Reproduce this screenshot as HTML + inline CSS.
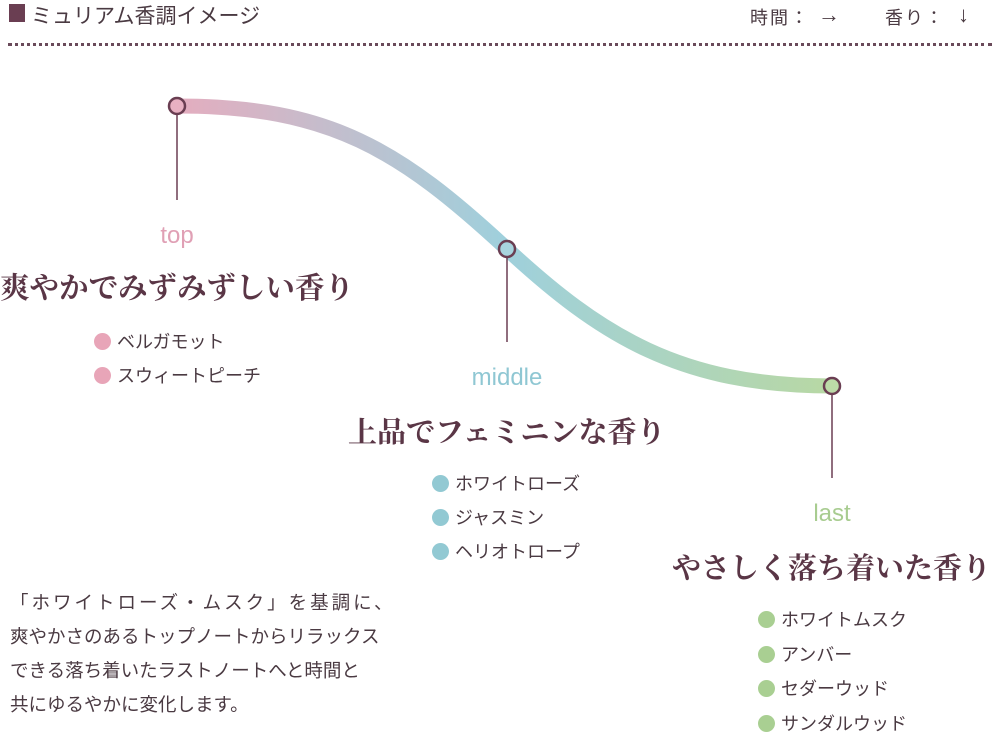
<!DOCTYPE html>
<html><head><meta charset="utf-8"><style>
body{margin:0;width:993px;height:732px;background:#fff;position:relative;overflow:hidden;font-family:"Liberation Sans","Noto Sans CJK JP",sans-serif;color:#4a3a42}
.a{position:absolute;white-space:nowrap}
.h{font-family:"Liberation Serif","Noto Serif CJK SC",serif;font-size:29px;color:#5a3646;font-weight:bold}
.b{font-size:18px;color:#4a3a42}
.d{display:inline-block;width:17px;height:17px;border-radius:50%;vertical-align:-2px;margin-right:6px}
.lab{font-size:24px;transform:translateX(-50%)}
</style></head><body>
<div class="a" style="left:9px;top:4px;width:16px;height:18px;background:#6a3e52"></div>
<div class="a" style="left:31px;top:0px;font-size:21px;color:#4a3a42">ミュリアム香調イメージ</div>
<div class="a" style="left:750px;top:4px;font-size:18px;letter-spacing:2px">時間：</div>
<div class="a" style="left:818px;top:2px;font-size:22px">→</div>
<div class="a" style="left:885px;top:4px;font-size:18px;letter-spacing:2px">香り：</div>
<div class="a" style="left:958px;top:2px;font-size:22px">↓</div>
<div class="a" style="left:8px;top:43px;width:984px;border-top:3px dotted #6a4a5a"></div>
<svg class="a" style="left:0;top:0" width="993" height="732">
<defs><linearGradient id="g" x1="177" y1="0" x2="832" y2="0" gradientUnits="userSpaceOnUse">
<stop offset="0" stop-color="#e4adbf"/><stop offset="0.5" stop-color="#9fd0dc"/><stop offset="1" stop-color="#b8d8a4"/></linearGradient></defs>
<path d="M177,106 C330,106 400,150 507,249 C600,335 680,386 832,386" fill="none" stroke="url(#g)" stroke-width="15"/>
<g stroke="#6a3e52" stroke-width="1.5"><line x1="177" y1="114" x2="177" y2="200"/><line x1="507" y1="257" x2="507" y2="342"/><line x1="832" y1="394" x2="832" y2="478"/></g>
<g stroke="#6a3e52" stroke-width="2.5"><circle cx="177" cy="106" r="8" fill="#e8b0c2"/><circle cx="507" cy="249" r="8" fill="#a8d4de"/><circle cx="832" cy="386" r="8" fill="#bcdaa8"/></g>
</svg>
<div class="a lab" style="left:177px;top:222px;color:#e0a0b5">top</div>
<div class="a lab" style="left:507px;top:364px;color:#8fc7d3">middle</div>
<div class="a lab" style="left:832px;top:500px;color:#a8cc90">last</div>
<div class="a h" style="left:0px;top:265px;font-size:29.5px">爽やかでみずみずしい香り</div>
<div class="a h" style="left:348px;top:410px">上品でフェミニンな香り</div>
<div class="a h" style="left:672px;top:546px">やさしく落ち着いた香り</div>
<div class="a b" style="left:94px;top:325px;line-height:34px"><span class="d" style="background:#e8a5b8"></span>ベルガモット<br><span class="d" style="background:#e8a5b8"></span>スウィートピーチ</div>
<div class="a b" style="left:432px;top:467px;line-height:34px"><span class="d" style="background:#92c9d3"></span>ホワイトローズ<br><span class="d" style="background:#92c9d3"></span>ジャスミン<br><span class="d" style="background:#92c9d3"></span>ヘリオトロープ</div>
<div class="a b" style="left:758px;top:603px;line-height:34.5px"><span class="d" style="background:#a9cf92"></span>ホワイトムスク<br><span class="d" style="background:#a9cf92"></span>アンバー<br><span class="d" style="background:#a9cf92"></span>セダーウッド<br><span class="d" style="background:#a9cf92"></span>サンダルウッド</div>
<div class="a" style="left:10px;top:586px;font-size:18.5px;line-height:34px"><span style="letter-spacing:3px">「ホワイトローズ・ムスク」を基調に、</span><br>爽やかさのあるトップノートからリラックス<br>できる落ち着いたラストノートへと時間と<br>共にゆるやかに変化します。</div>
</body></html>
